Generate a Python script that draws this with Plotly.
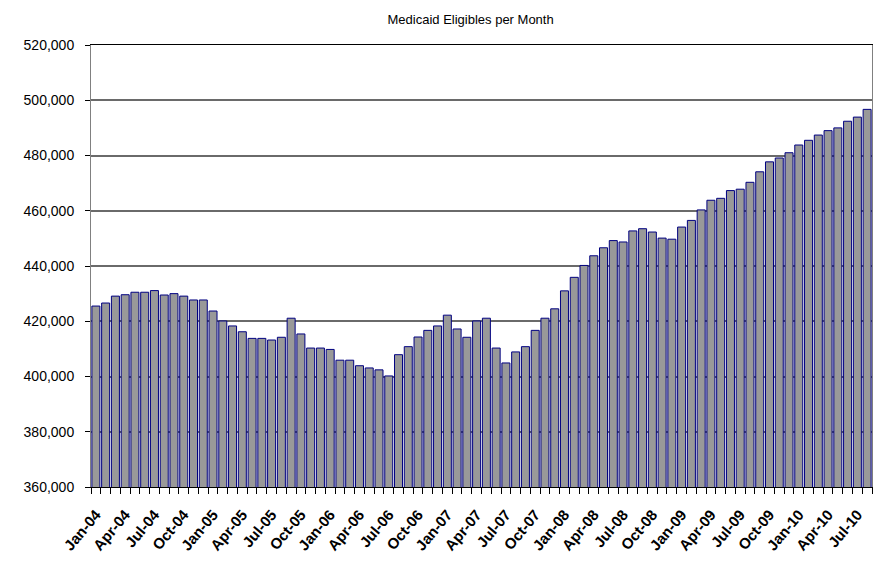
import plotly.graph_objects as go

# Monthly categories Jan-04 .. Aug-10
month_names = ["Jan", "Feb", "Mar", "Apr", "May", "Jun",
               "Jul", "Aug", "Sep", "Oct", "Nov", "Dec"]
years = ["04", "05", "06", "07", "08", "09", "10"]
months = [f"{m}-{y}" for y in years for m in month_names][:80]

# Medicaid eligibles per month
eligibles = [
    425500, 426600, 429100, 429600, 430500, 430500, 431100, 429500, 430000, 429100, 427700, 427700,  # 2004
    423700, 420100, 418300, 416200, 413800, 413800, 413200, 414200, 421100, 415400, 410300, 410300,  # 2005
    409800, 405900, 405900, 403900, 403100, 402400, 400200, 407900, 410800, 414300, 416700, 418300,  # 2006
    422200, 417200, 414200, 420100, 421100, 410300, 404900, 408900, 410800, 416700, 421100, 424500,  # 2007
    431000, 435900, 440200, 443700, 446600, 449200, 448700, 452700, 453500, 452300, 450100, 449700,  # 2008
    454100, 456500, 460300, 463800, 464500, 467300, 467800, 470300, 474100, 477700, 479100, 481000,  # 2009
    483800, 485500, 487400, 489000, 490000, 492400, 493900, 496700,                                  # 2010
]

# Tick labels shown every third month
tick_labels = ["Jan-04", "Apr-04", "Jul-04", "Oct-04",
               "Jan-05", "Apr-05", "Jul-05", "Oct-05",
               "Jan-06", "Apr-06", "Jul-06", "Oct-06",
               "Jan-07", "Apr-07", "Jul-07", "Oct-07",
               "Jan-08", "Apr-08", "Jul-08", "Oct-08",
               "Jan-09", "Apr-09", "Jul-09", "Oct-09",
               "Jan-10", "Apr-10", "Jul-10"]

positions = list(range(len(months)))
tick_positions = [months.index(lbl) for lbl in tick_labels]

fig = go.Figure(
    go.Bar(
        x=positions,
        y=eligibles,
        customdata=months,
        hovertemplate="%{customdata}: %{y:,}<extra></extra>",
        marker=dict(color="#999999", line=dict(color="#000080", width=1)),
    )
)

fig.update_layout(
    width=878,
    height=587,
    margin=dict(l=91, r=6, t=45, b=100),
    paper_bgcolor="white",
    plot_bgcolor="white",
    bargap=0.18,
    showlegend=False,
    title=dict(
        text="Medicaid Eligibles per Month",
        x=0.536,
        xanchor="center",
        y=0.967,
        yanchor="middle",
        font=dict(family="Liberation Sans", size=13, color="black"),
    ),
    font=dict(family="Liberation Sans", color="black"),
)

fig.update_xaxes(
    range=[-0.5, len(months) - 0.5],
    tickmode="array",
    tickvals=tick_positions,
    ticktext=tick_labels,
    tickangle=-50,
    ticks="",
    ticklabelstandoff=12,
    tickfont=dict(family="Liberation Sans", size=15, color="black", weight="bold"),
    showgrid=False,
    zeroline=False,
    showline=True,
    linecolor="black",
    linewidth=1,
    mirror=True,
    automargin=False,
    minor=dict(ticks="outside", ticklen=6, tickcolor="black", tick0=-0.5, dtick=1, showgrid=False),
)

fig.update_yaxes(
    range=[360000, 520000],
    tick0=360000,
    dtick=20000,
    tickformat=",",
    ticks="outside",
    ticklen=5,
    tickcolor="black",
    ticklabelstandoff=8,
    tickfont=dict(family="Liberation Sans", size=14, color="black"),
    showgrid=True,
    gridcolor="#6a6a6a",
    gridwidth=1.5,
    zeroline=False,
    showline=True,
    linecolor="#808080",
    linewidth=1,
    mirror=True,
    automargin=False,
)

fig.write_html(
    "out.html",
    config={"displayModeBar": False},
    post_script="document.body.style.margin='0px';document.body.style.overflow='hidden';",
)
